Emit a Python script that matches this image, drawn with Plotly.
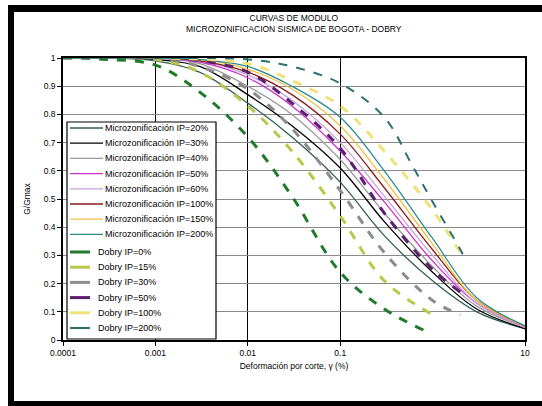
import plotly.graph_objects as go

# ---------------- data ----------------
x_micro = [0.0001, 0.0003, 0.001, 0.003, 0.01, 0.03, 0.1, 0.3, 1, 3, 10]
micro_names = ["Microzonificación IP=20%", "Microzonificación IP=30%", "Microzonificación IP=40%",
               "Microzonificación IP=50%", "Microzonificación IP=60%", "Microzonificación IP=100%",
               "Microzonificación IP=150%", "Microzonificación IP=200%"]
micro_ip20 = [1, 1, 0.99, 0.95, 0.84, 0.72, 0.56, 0.37, 0.21, 0.10, 0.040]
micro_ip30 = [1, 1, 0.995, 0.97, 0.87, 0.76, 0.61, 0.42, 0.24, 0.11, 0.040]
micro_ip40 = [1, 1, 1, 0.98, 0.90, 0.80, 0.64, 0.45, 0.26, 0.12, 0.045]
micro_ip50 = [1, 1, 1, 0.985, 0.93, 0.83, 0.67, 0.49, 0.28, 0.13, 0.045]
micro_ip60 = [1, 1, 1, 0.99, 0.94, 0.85, 0.70, 0.51, 0.30, 0.13, 0.045]
micro_ip100 = [1, 1, 1, 0.99, 0.95, 0.87, 0.73, 0.54, 0.32, 0.14, 0.050]
micro_ip150 = [1, 1, 1, 0.995, 0.96, 0.89, 0.76, 0.57, 0.34, 0.14, 0.050]
micro_ip200 = [1, 1, 1, 0.995, 0.97, 0.90, 0.79, 0.60, 0.36, 0.15, 0.050]
micro_values = [micro_ip20, micro_ip30, micro_ip40, micro_ip50,
                micro_ip60, micro_ip100, micro_ip150, micro_ip200]

dobry_names = ["Dobry IP=0%", "Dobry IP=15%", "Dobry IP=30%",
               "Dobry IP=50%", "Dobry IP=100%", "Dobry IP=200%"]
dobry_ip0_x = [0.0001, 0.0003, 0.001, 0.003, 0.01, 0.03, 0.1, 0.3, 0.8]
dobry_ip0_y = [1.0, 0.995, 0.975, 0.88, 0.72, 0.51, 0.24, 0.11, 0.035]
dobry_ip15_x = [0.0001, 0.001, 0.003, 0.01, 0.03, 0.1, 0.3, 1.0]
dobry_ip15_y = [1.0, 0.995, 0.95, 0.83, 0.67, 0.44, 0.21, 0.09]
dobry_ip30_x = [0.0001, 0.001, 0.003, 0.01, 0.03, 0.1, 0.3, 1.0, 2.0]
dobry_ip30_y = [1.0, 1.0, 0.97, 0.89, 0.75, 0.53, 0.31, 0.14, 0.09]
dobry_ip50_x = [0.0001, 0.001, 0.003, 0.01, 0.03, 0.1, 0.3, 1.0, 2.0]
dobry_ip50_y = [1.0, 1.0, 0.99, 0.95, 0.84, 0.68, 0.45, 0.25, 0.17]
dobry_ip100_x = [0.0001, 0.001, 0.01, 0.03, 0.1, 0.3, 1.0, 2.0]
dobry_ip100_y = [1.0, 1.0, 0.98, 0.92, 0.83, 0.67, 0.46, 0.31]
dobry_ip200_x = [0.0001, 0.001, 0.01, 0.03, 0.1, 0.3, 0.6, 1.0, 2.0, 2.3]
dobry_ip200_y = [1.0, 1.0, 0.995, 0.97, 0.91, 0.79, 0.62, 0.49, 0.32, 0.28]
dobry_x = [dobry_ip0_x, dobry_ip15_x, dobry_ip30_x, dobry_ip50_x, dobry_ip100_x, dobry_ip200_x]
dobry_y = [dobry_ip0_y, dobry_ip15_y, dobry_ip30_y, dobry_ip50_y, dobry_ip100_y, dobry_ip200_y]

x_tickvals = [0.0001, 0.001, 0.01, 0.1, 10]
x_ticktext = ["0.0001", "0.001", "0.01", "0.1", "10"]
y_tickvals = [0, 0.1, 0.2, 0.3, 0.4, 0.5, 0.6, 0.7, 0.8, 0.9, 1]
y_ticktext = ["0", "0.1", "0.2", "0.3", "0.4", "0.5", "0.6", "0.7", "0.8", "0.9", "1"]

# ---------------- styles ----------------
micro_colors = ["#2f5f4f", "#000000", "#9a9a9a", "#cc33cc", "#c9a0dc", "#8b1a1a", "#f0c040", "#2e8b8b"]
dobry_colors = ["#1f7a2a", "#b8c84a", "#8c8c8c", "#5b1f6e", "#efe27a", "#2f6f6f"]
dobry_widths = [3, 3, 3, 3, 3, 2]

fig = go.Figure()
for name, yv, c in zip(micro_names, micro_values, micro_colors):
    fig.add_trace(go.Scatter(x=x_micro, y=yv, name=name, mode="lines",
                             line=dict(color=c, width=1.3, shape="spline"), showlegend=False))
for name, xv, yv, c, w in zip(dobry_names, dobry_x, dobry_y, dobry_colors, dobry_widths):
    fig.add_trace(go.Scatter(x=xv, y=yv, name=name, mode="lines",
                             line=dict(color=c, width=w, dash="dash", shape="spline"), showlegend=False))

# geometry of plot area in pixels
L, R, T, B = 63, 525, 58, 340
W, H = 542, 406
def px(xp):
    return (xp - L) / (R - L)
def py(yp):
    return (B - yp) / (B - T)

shapes = []
annotations = []
# black frame of scanned picture
shapes.append(dict(type="rect", xref="paper", yref="paper", x0=px(8), x1=px(14), y0=py(406), y1=py(5),
                   fillcolor="black", line=dict(width=0), layer="above"))
shapes.append(dict(type="rect", xref="paper", yref="paper", x0=px(8), x1=px(542), y0=py(12), y1=py(5),
                   fillcolor="black", line=dict(width=0), layer="above"))
shapes.append(dict(type="rect", xref="paper", yref="paper", x0=px(8), x1=px(542), y0=py(406), y1=py(401),
                   fillcolor="black", line=dict(width=0), layer="above"))

# manual legend
shapes.append(dict(type="rect", xref="paper", yref="paper", x0=px(67), x1=px(216), y0=py(339), y1=py(122),
                   fillcolor="white", line=dict(color="black", width=1.2), layer="above"))
leg_font = dict(family="Liberation Sans, Arial", size=9, color="black")
for i, (name, c) in enumerate(zip(micro_names, micro_colors)):
    yy = 128 + 15.2 * i
    shapes.append(dict(type="line", xref="paper", yref="paper", x0=px(70), x1=px(103), y0=py(yy), y1=py(yy),
                       line=dict(color=c, width=1.3), layer="above"))
    annotations.append(dict(text=name, xref="paper", yref="paper", x=px(103), y=py(yy),
                            xanchor="left", yanchor="middle", showarrow=False, font=leg_font))
for j, (name, c, w) in enumerate(zip(dobry_names, dobry_colors, dobry_widths)):
    yy = 252 + 15.2 * j
    shapes.append(dict(type="line", xref="paper", yref="paper", x0=px(70), x1=px(90), y0=py(yy), y1=py(yy),
                       line=dict(color=c, width=w), layer="above"))
    annotations.append(dict(text=name, xref="paper", yref="paper", x=px(96), y=py(yy),
                            xanchor="left", yanchor="middle", showarrow=False, font=leg_font))

# titles
annotations.append(dict(text="CURVAS DE MODULO<br>MICROZONIFICACION SISMICA DE BOGOTA - DOBRY",
                        xref="paper", yref="paper", x=px(294), y=py(23), xanchor="center", yanchor="middle",
                        showarrow=False, font=dict(family="Liberation Sans, Arial", size=8.5, color="black")))

fig.update_layout(
    width=W, height=H,
    margin=dict(l=L, r=W - R, t=T, b=H - B),
    paper_bgcolor="white", plot_bgcolor="white",
    font=dict(family="Liberation Sans, Arial", size=8.5, color="black"),
    shapes=shapes, annotations=annotations, showlegend=False,
    xaxis=dict(type="log", range=[-4, 1], tickvals=x_tickvals, ticktext=x_ticktext,
               showgrid=True, gridcolor="black", gridwidth=1.3, zeroline=False,
               showline=True, mirror=True, linecolor="black", linewidth=1.5,
               ticks="outside", ticklen=4, tickcolor="black",
               title=dict(text="Deformación por corte, γ (%)", standoff=6, font=dict(size=8.5))),
    yaxis=dict(range=[0, 1], tickvals=y_tickvals, ticktext=y_ticktext,
               showgrid=True, gridcolor="#8a8a8a", gridwidth=1.3, zeroline=False,
               showline=True, mirror=True, linecolor="black", linewidth=1.5,
               ticks="outside", ticklen=4, tickcolor="black",
               title=dict(text="G/Gmax", standoff=12, font=dict(size=8.5))),
)

fig.write_html("out.html")
